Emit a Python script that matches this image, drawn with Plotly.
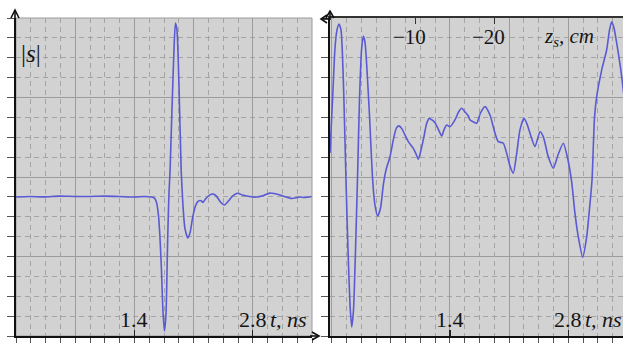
import plotly.graph_objects as go

# ---------------- data ----------------
# left panel: |s| versus t, ns (amplitude in grid units, 0..16)
t_left = [0.000, 0.157, 0.335, 0.512, 0.690, 0.867, 1.045, 1.222, 1.400, 1.518,
          1.601, 1.637, 1.660, 1.684, 1.702, 1.720, 1.737, 1.755, 1.773, 1.794,
          1.808, 1.822, 1.844, 1.868, 1.885, 1.903, 1.927, 1.953, 1.974, 1.997,
          2.031, 2.057, 2.090, 2.122, 2.149, 2.175, 2.193, 2.211, 2.240, 2.288,
          2.335, 2.370, 2.418, 2.465, 2.512, 2.560, 2.622, 2.678, 2.761, 2.844,
          2.927, 2.998, 3.080, 3.175, 3.258, 3.353, 3.412, 3.495]
s_left = [6.99, 7.02, 7.00, 7.04, 7.02, 7.02, 7.04, 7.02, 6.99, 7.02,
          6.99, 6.94, 6.74, 6.09, 4.98, 3.32, 1.31, 0.25, 1.06, 4.98,
          7.09, 8.35, 11.37, 14.39, 15.75, 15.40, 12.63, 8.35, 6.59, 5.43,
          4.93, 5.18, 5.99, 6.54, 6.76, 6.82, 6.79, 6.72, 6.89, 7.09,
          7.14, 7.04, 6.74, 6.59, 6.79, 7.04, 7.18, 7.09, 7.02, 6.99,
          7.07, 7.19, 7.14, 7.02, 6.92, 6.99, 6.97, 7.02]

# right panel: signal versus t, ns (same amplitude units)
t_right = [-0.020, 0.010, 0.039, 0.063, 0.086, 0.110, 0.134, 0.151, 0.169, 0.193,
           0.217, 0.237, 0.258, 0.282, 0.308, 0.329, 0.353, 0.374, 0.394, 0.418,
           0.447, 0.485, 0.512, 0.544, 0.578, 0.611, 0.643, 0.690, 0.737, 0.767,
           0.796, 0.832, 0.868, 0.907, 0.966, 0.998, 1.025, 1.057, 1.092, 1.122,
           1.155, 1.187, 1.223, 1.262, 1.302, 1.329, 1.361, 1.400, 1.459, 1.501,
           1.539, 1.578, 1.617, 1.637, 1.678, 1.716, 1.761, 1.814, 1.873, 1.933,
           1.972, 2.031, 2.071, 2.110, 2.149, 2.187, 2.228, 2.276, 2.311, 2.347,
           2.406, 2.465, 2.504, 2.563, 2.623, 2.678, 2.741, 2.788, 2.840, 2.879,
           2.918, 2.970, 3.018, 3.057, 3.081, 3.110, 3.136, 3.195, 3.254, 3.288,
           3.314, 3.341, 3.373, 3.432, 3.483]
s_right = [9.21, 11.87, 14.49, 15.40, 15.70, 15.40, 13.39, 10.87, 7.85, 4.33,
           1.56, 0.45, 1.31, 4.33, 8.35, 11.87, 14.39, 15.09, 14.79, 13.38,
           11.12, 7.85, 6.59, 6.04, 6.44, 7.60, 8.35, 9.02, 10.03, 10.47,
           10.57, 10.42, 10.11, 9.78, 9.44, 9.16, 8.89, 9.36, 10.03, 10.67,
           10.95, 10.87, 10.73, 10.40, 10.06, 10.37, 10.62, 10.53, 10.87, 11.27,
           11.46, 11.27, 11.07, 10.87, 10.77, 10.70, 11.22, 11.54, 11.12, 10.20,
           9.78, 9.70, 9.19, 8.55, 8.19, 9.11, 10.37, 10.95, 10.67, 10.20,
           9.53, 10.28, 10.03, 9.02, 8.44, 9.11, 9.70, 9.02, 7.75, 6.17,
           5.00, 3.96, 5.00, 6.68, 7.85, 10.97, 12.04, 13.38, 14.39, 15.40,
           15.81, 15.50, 14.73, 13.05, 11.12]

t_tick_vals = [1.4, 2.8]
t_tick_text = ["1.4", "2.8"]
t_axis_name = "t, ns"
z_tick_vals = [-10, -20]
z_tick_text = ["\u221210", "\u221220"]

# ---------------- geometry / style ----------------
W, H = 623, 343


def px(x):
    return x / W


def py(y):
    return (H - y) / H


BG = "#d2d2d2"
MAJ = "#9c9c9c"
MINC = "#a4a4a4"
LINE = "rgb(90,90,212)"
TXT = "#151515"
FONT = "Liberation Serif"
YDOM = [py(336), py(18)]

fig = go.Figure()
fig.add_trace(go.Scatter(x=t_left, y=s_left, mode="lines", xaxis="x", yaxis="y",
                         line=dict(color=LINE, width=1.6, shape="spline", smoothing=0.6),
                         hoverinfo="skip", showlegend=False))
fig.add_trace(go.Scatter(x=t_right, y=s_right, mode="lines", xaxis="x2", yaxis="y2",
                         line=dict(color=LINE, width=1.6, shape="spline", smoothing=0.6),
                         hoverinfo="skip", showlegend=False))


def xax(domain, rng, anchor):
    return dict(domain=domain, range=rng, anchor=anchor, tick0=0, dtick=0.7,
                showgrid=True, gridcolor=MAJ, gridwidth=1, zeroline=False,
                showticklabels=False, ticks="outside", ticklen=7, tickcolor="#555",
                showline=True, linecolor="#111", linewidth=2,
                minor=dict(dtick=0.175, showgrid=True, gridcolor=MINC, gridwidth=1,
                           griddash="5px,4px", ticks="outside", ticklen=7,
                           tickcolor="#555"))


def yax(anchor):
    return dict(domain=YDOM, range=[0, 16], anchor=anchor, tick0=0, dtick=4,
                showgrid=True, gridcolor=MAJ, gridwidth=1, zeroline=False,
                showticklabels=False, ticks="outside", ticklen=7, tickcolor="#555",
                showline=True, linecolor="#111", linewidth=2,
                minor=dict(dtick=1, showgrid=True, gridcolor=MINC, gridwidth=1,
                           griddash="5px,4px", ticks="outside", ticklen=7,
                           tickcolor="#555"))


left_dom = [px(16), px(312)]
right_dom = [px(330), 1.0]
right_rng = [-0.02, -0.02 + (623 - 330) / 84.5]

fig.update_layout(
    width=W, height=H, margin=dict(l=0, r=0, t=0, b=0),
    paper_bgcolor="white", plot_bgcolor=BG,
    xaxis=xax(left_dom, [0, 3.5], "y"),
    yaxis=yax("x"),
    xaxis2=xax(right_dom, right_rng, "y2"),
    yaxis2=yax("x2"),
    # inside tick marks at labelled times
    xaxis4=dict(overlaying="x", anchor="y", range=[0, 3.5], tickvals=t_tick_vals,
                ticks="inside", ticklen=6, tickcolor="#222", tickwidth=1.2,
                showgrid=False, zeroline=False, showticklabels=False, showline=False),
    xaxis5=dict(overlaying="x2", anchor="y2", range=right_rng, tickvals=t_tick_vals,
                ticks="inside", ticklen=6, tickcolor="#222", tickwidth=1.2,
                showgrid=False, zeroline=False, showticklabels=False, showline=False),
    # top z_s axis on the right panel
    xaxis3=dict(overlaying="x2", anchor="y2", side="top",
                range=[(336 - 330) / 7.9, -(623 - 336) / 7.9],
                tickvals=z_tick_vals, ticks="inside", ticklen=6, tickcolor="#333",
                showgrid=False, zeroline=False, showticklabels=False,
                showline=True, linecolor="#333", linewidth=2),
)

# invisible traces to activate overlay axes
for xa, ya, xv in (("x4", "y", t_tick_vals), ("x5", "y2", t_tick_vals), ("x3", "y2", z_tick_vals)):
    fig.add_trace(go.Scatter(x=xv, y=[-100] * len(xv), xaxis=xa, yaxis=ya, mode="lines",
                             line=dict(width=0), hoverinfo="skip", showlegend=False))

shapes = []
# light border of the left panel
shapes.append(dict(type="rect", xref="x domain", yref="y domain", x0=0, x1=1, y0=0, y1=1,
                   line=dict(color="#9a9a9a", width=1), layer="below"))


def path(points):
    return "M " + " L ".join(f"{px(a):.5f},{py(b):.5f}" for a, b in points)


arrows = [
    [(15, 20), (15, 10)], [(11, 18), (15, 10), (19, 18)],               # left y
    [(310, 336), (319, 336)], [(312, 332), (319, 336), (312, 340)],     # left x
    [(330, 20), (330, 11)], [(326, 18), (330, 11), (334, 18)],          # right y
    [(330, 19), (321, 19)], [(327, 15), (321, 19), (327, 23)],          # top z
]
for pts in arrows:
    shapes.append(dict(type="path", xref="paper", yref="paper", path=path(pts),
                       line=dict(color="#111", width=1.6)))
fig.update_layout(shapes=shapes)

ann = []
fnt = dict(family=FONT, size=22, color=TXT)
ann.append(dict(xref="paper", yref="paper", x=px(31), y=py(53), text="|<i>s</i>|",
                xanchor="center", yanchor="middle",
                showarrow=False, font=dict(family=FONT, size=25, color=TXT)))
for xr in ("x", "x2"):
    for v, tx in zip(t_tick_vals, t_tick_text):
        ann.append(dict(xref=xr, yref="paper", x=v, y=py(319), text=tx, showarrow=False,
                        xanchor="center", yanchor="middle", font=fnt))
    ann.append(dict(xref=xr, yref="paper", x=t_tick_vals[-1], xshift=15, y=py(319),
                    text="<i>" + t_axis_name + "</i>", showarrow=False,
                    xanchor="left", yanchor="middle", font=fnt))
for v, tx in zip(z_tick_vals, z_tick_text):
    ann.append(dict(xref="x3", yref="paper", x=v, xshift=-5, y=py(37), text=tx,
                    showarrow=False, xanchor="center", yanchor="middle",
                    font=dict(family=FONT, size=21, color=TXT)))
ann.append(dict(xref="paper", yref="paper", x=px(542), y=py(37),
                text="<i>z</i><sub><i>s</i></sub><i>, cm</i>", showarrow=False,
                xanchor="left", yanchor="middle", font=dict(family=FONT, size=21, color=TXT)))
fig.update_layout(annotations=ann)

fig.write_html("out.html", config={"displayModeBar": False, "staticPlot": True},
               post_script="document.body.style.margin='0';document.body.style.overflow='hidden';")
